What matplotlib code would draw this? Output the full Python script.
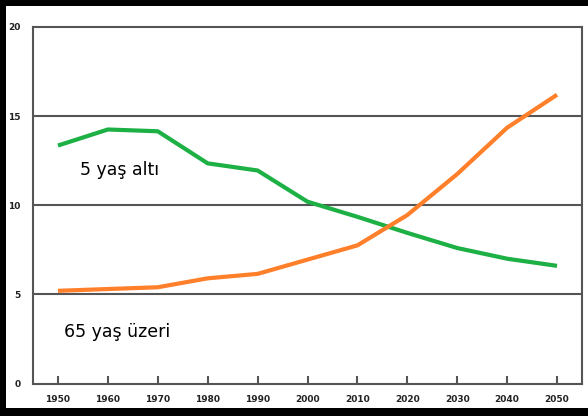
import matplotlib
matplotlib.use("Agg")
import matplotlib.pyplot as plt
from matplotlib.patches import Rectangle

# Data
years = [1950, 1960, 1970, 1980, 1990, 2000, 2010, 2020, 2030, 2040, 2050]
under_5 = [13.35, 14.25, 14.15, 12.35, 11.95, 10.2, 9.35, 8.45, 7.6, 7.0, 6.6]
over_65 = [5.2, 5.3, 5.4, 5.9, 6.15, 6.95, 7.75, 9.45, 11.75, 14.35, 16.2]
y_ticks = [0, 5, 10, 15, 20]

W, H = 588, 416
fig = plt.figure(figsize=(W / 100, H / 100), dpi=100)
fig.patch.set_facecolor("black")
# white page inside the black frame (no frame on the right)
fig.patches.append(Rectangle((6 / W, 8 / H), 1 - 6 / W, 1 - 14 / H,
                             transform=fig.transFigure, facecolor="white",
                             edgecolor="none", zorder=-10))

ax = fig.add_axes([33 / W, (H - 383.5) / H, (582 - 33) / W, (383.5 - 27) / H])
ax.set_facecolor("white")

ax.plot(years, under_5, color="#1db045", lw=3, solid_capstyle="butt", zorder=3)
ax.plot(years, over_65, color="#ff7f2a", lw=3, solid_capstyle="butt", zorder=3)

ax.set_xlim(1945, 2055)
ax.set_ylim(0, 20)
ax.set_xticks(years)
ax.set_yticks(y_ticks)
for y in y_ticks[1:-1]:
    ax.axhline(y, color="#555555", lw=1.5, zorder=1)

for s in ax.spines.values():
    s.set_color("#555555")
    s.set_linewidth(1.5)

ax.tick_params(axis="x", direction="in", length=6, width=1.5, color="#555555",
               pad=8, labelsize=6.5)
ax.tick_params(axis="y", length=0, pad=9, labelsize=6.5)
for lab in ax.get_xticklabels() + ax.get_yticklabels():
    lab.set_fontweight("bold")
    lab.set_color("#222222")

ax.text(1954.4, 12.0, "5 yaş altı", fontsize=12.5, color="black", va="center")
ax.text(1951.2, 2.9, "65 yaş üzeri", fontsize=12.5, color="black", va="center")

fig.savefig("out.png", dpi=100, facecolor=fig.get_facecolor())
